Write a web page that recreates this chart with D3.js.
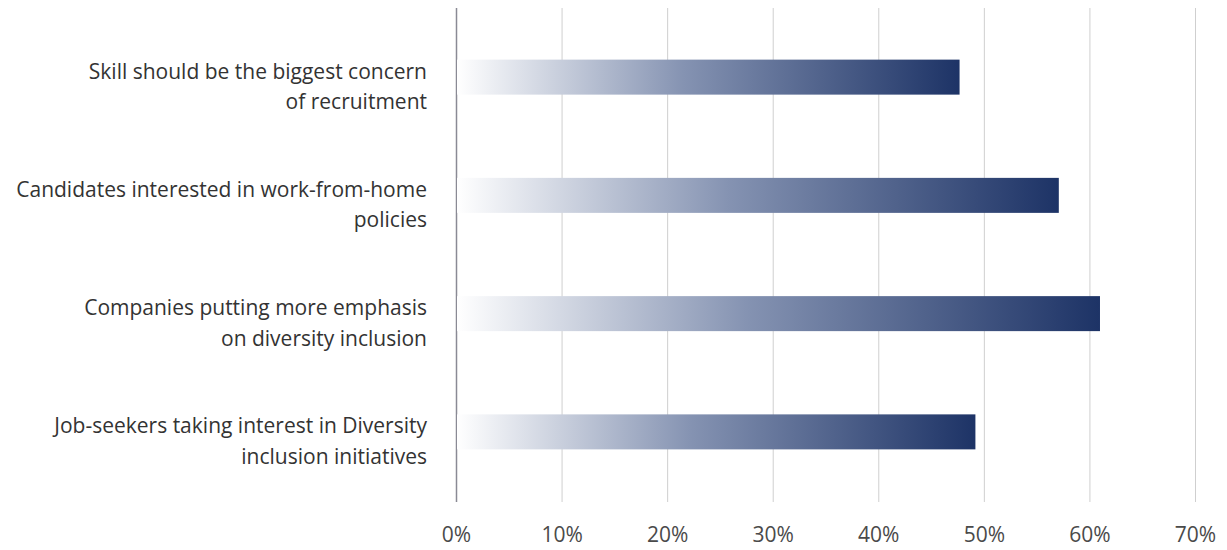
<!DOCTYPE html>
<html><head><meta charset="utf-8">
<script src="https://cdn.jsdelivr.net/npm/d3@7"></script>
<style>body{margin:0;background:#fff;} svg{display:block;}</style>
</head><body>
<svg id="c" width="1227" height="550"></svg>
<script>
const categories = [
  ["Skill should be the biggest concern", "of recruitment"],
  ["Candidates interested in work-from-home", "policies"],
  ["Companies putting more emphasis", "on diversity inclusion"],
  ["Job-seekers taking interest in Diversity", "inclusion initiatives"]
];
const values = [47.7, 57.1, 61.0, 49.2];
const ticks = [0, 10, 20, 30, 40, 50, 60, 70];

const svg = d3.select("#c");
const x = d3.scaleLinear().domain([0, 70]).range([456, 1195]);
const y = d3.scaleBand().domain(d3.range(categories.length)).range([18, 491]).paddingInner(0.704).paddingOuter(0.352);

const defs = svg.append("defs");
const grad = defs.append("linearGradient").attr("id", "g").attr("x1", "0").attr("x2", "1").attr("y1", "0").attr("y2", "0");
grad.append("stop").attr("offset", "0").attr("stop-color", "#ffffff");
grad.append("stop").attr("offset", "0.45").attr("stop-color", "#8593b2");
grad.append("stop").attr("offset", "1").attr("stop-color", "#1d3366");

// grid
const axis = d3.axisBottom(x).tickValues(ticks).tickFormat(d => d + "%").tickSize(494).tickPadding(25);
const g = svg.append("g").attr("transform", "translate(0,8)").call(axis);
g.select(".domain").remove();
g.selectAll(".tick line").attr("stroke", d => d === 0 ? "#8a8a95" : "#cfcfcf").attr("stroke-width", d => d === 0 ? 1.5 : 1);
g.selectAll(".tick text").attr("font-family", "Open Sans, sans-serif").attr("font-size", 21).attr("fill", "#4a4a4a");

// bars
svg.append("g").selectAll("rect").data(values).join("rect")
  .attr("x", x(0) + 1)
  .attr("y", (d, i) => y(i))
  .attr("width", d => x(d) - x(0) - 1)
  .attr("height", y.bandwidth())
  .attr("fill", "url(#g)");

// labels
const lab = svg.append("g").selectAll("text").data(categories).join("text")
  .attr("text-anchor", "end")
  .attr("font-family", "Open Sans, sans-serif")
  .attr("font-size", 21)
  .attr("fill", "#333");
lab.each(function(d, i) {
  const c = y(i) + y.bandwidth() / 2;
  d3.select(this).selectAll("tspan").data(d).join("tspan")
    .attr("x", 427)
    .attr("y", (t, j) => c + 1.5 + j * 30.5)
    .text(t => t);
});
</script>
</body></html>
